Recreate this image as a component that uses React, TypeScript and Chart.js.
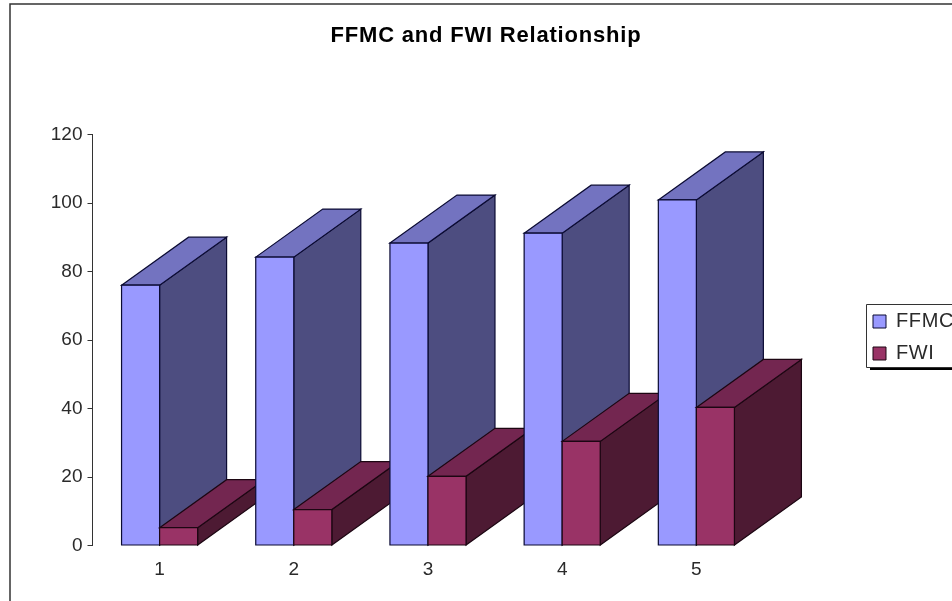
import React, { useEffect, useRef } from "react";
import { Chart, registerables } from "chart.js";

Chart.register(...registerables);

const categories = ["1", "2", "3", "4", "5"];
const ffmcValues = [76, 84.2, 88.3, 91.2, 100.9];
const fwiValues = [5.2, 10.5, 20.2, 30.4, 40.3];
const yTicks = [0, 20, 40, 60, 80, 100, 120];

const FONT = "'Liberation Sans', Arial, sans-serif";
const TEXT = "#2a2a2a";
const DEPTH_X = 67;
const DEPTH_Y = 48;

const shades = [
  { front: "#9999FF", top: "#7373C0", side: "#4D4D80", line: "#0b0b33" },
  { front: "#993366", top: "#732650", side: "#4D1A33", line: "#1c0612" },
];

function poly(ctx: CanvasRenderingContext2D, pts: number[][], fill: string, line: string) {
  ctx.beginPath();
  pts.forEach(([x, y], i) => (i ? ctx.lineTo(x, y) : ctx.moveTo(x, y)));
  ctx.closePath();
  ctx.fillStyle = fill;
  ctx.fill();
  ctx.strokeStyle = line;
  ctx.lineWidth = 1.2;
  ctx.stroke();
}

const bars3d = {
  id: "bars3d",
  afterDatasetsDraw(chart: any) {
    const ctx = chart.ctx as CanvasRenderingContext2D;
    ctx.save();
    categories.forEach((_, i) => {
      chart.data.datasets.forEach((_d: any, di: number) => {
        const bar = chart.getDatasetMeta(di).data[i];
        const { x, y, base, width } = bar.getProps(["x", "y", "base", "width"], true);
        const l = x - width / 2;
        const r = x + width / 2;
        const s = shades[di];
        poly(ctx, [[r, y], [r + DEPTH_X, y - DEPTH_Y], [r + DEPTH_X, base - DEPTH_Y], [r, base]], s.side, s.line);
        poly(ctx, [[l, y], [l + DEPTH_X, y - DEPTH_Y], [r + DEPTH_X, y - DEPTH_Y], [r, y]], s.top, s.line);
        poly(ctx, [[l, y], [r, y], [r, base], [l, base]], s.front, s.line);
      });
    });
    ctx.restore();
  },
};

function track(box: any, ctx: any, spacing: string) {
  if (box.__tracked) return;
  box.__tracked = true;
  const orig = box.draw;
  box.draw = function (...args: any[]) {
    ctx.save();
    ctx.letterSpacing = spacing;
    orig.apply(this, args);
    ctx.restore();
  };
}

const frame = {
  id: "frame",
  afterLayout(chart: any) {
    const lg = chart.legend;
    const w = lg.width;
    lg.left = 861;
    lg.right = lg.left + w;
    lg.top = 299.5;
    const t = chart.titleBlock;
    const cx = 486;
    const half = (t.right - t.left) / 2;
    t.left = cx - half;
    t.right = cx + half;
    track(t, chart.ctx, "0.8px");
    track(lg, chart.ctx, "0.6px");
  },
  beforeDraw(chart: any) {
    const ctx = chart.ctx as CanvasRenderingContext2D;
    ctx.save();
    ctx.fillStyle = "#ffffff";
    ctx.fillRect(0, 0, chart.width, chart.height);
    ctx.strokeStyle = "#333333";
    ctx.lineWidth = 1.5;
    ctx.beginPath();
    ctx.moveTo(10, chart.height);
    ctx.lineTo(10, 4);
    ctx.lineTo(chart.width, 4);
    ctx.stroke();
    // legend panel
    ctx.fillStyle = "#000000";
    ctx.fillRect(870, 367, 82, 3);
    ctx.fillStyle = "#ffffff";
    ctx.strokeStyle = "#333333";
    ctx.lineWidth = 1;
    ctx.beginPath();
    ctx.rect(866.5, 304.5, 90, 63);
    ctx.fill();
    ctx.stroke();
    ctx.restore();
  },
};

export default function App() {
  const ref = useRef<HTMLCanvasElement>(null);
  useEffect(() => {
    const chart = new Chart(ref.current!, {
      type: "bar",
      plugins: [frame, bars3d],
      data: {
        labels: categories,
        datasets: [
          { label: "FFMC", data: ffmcValues, backgroundColor: shades[0].front, borderColor: shades[0].line, borderWidth: 1 },
          { label: "FWI", data: fwiValues, backgroundColor: shades[1].front, borderColor: shades[1].line, borderWidth: 1 },
        ],
      },
      options: {
        animation: false,
        responsive: false,
        layout: { padding: { left: 20, right: 88, top: 0, bottom: 0 } },
        datasets: { bar: { categoryPercentage: 0.567, barPercentage: 1 } },
        plugins: {
          title: {
            display: true,
            text: "FFMC and FWI Relationship",
            color: "#000000",
            font: { family: FONT, size: 22, weight: "bold" },
            padding: { top: 23, bottom: 85.1 },
          },
          tooltip: { enabled: false },
          legend: {
            position: "right",
            align: "start",
            fullSize: false,
            labels: {
              boxWidth: 13,
              boxHeight: 13,
              padding: 12,
              color: TEXT,
              font: { family: FONT, size: 20 },
            },
          },
        },
        scales: {
          x: {
            afterFit(s: any) {
              s.height = 55.5;
            },
            grid: { display: false },
            border: { display: false },
            ticks: { color: TEXT, font: { family: FONT, size: 19 }, padding: 5 },
          },
          y: {
            min: yTicks[0],
            max: yTicks[yTicks.length - 1],
            afterFit(s: any) {
              s.width = 72.5;
            },
            ticks: { stepSize: 20, color: TEXT, font: { family: FONT, size: 19 }, padding: 5 },
            grid: { drawOnChartArea: false, drawTicks: true, tickLength: 5, color: "#333333" },
            border: { display: true, color: "#333333", width: 1 },
          },
        },
      },
    } as any);
    return () => chart.destroy();
  }, []);
  return (
    <div style={{ position: "absolute", left: 0, top: 0, width: 952, height: 601, overflow: "hidden", background: "#fff" }}>
      <canvas ref={ref} width={952} height={601} style={{ display: "block" }} />
    </div>
  );
}
